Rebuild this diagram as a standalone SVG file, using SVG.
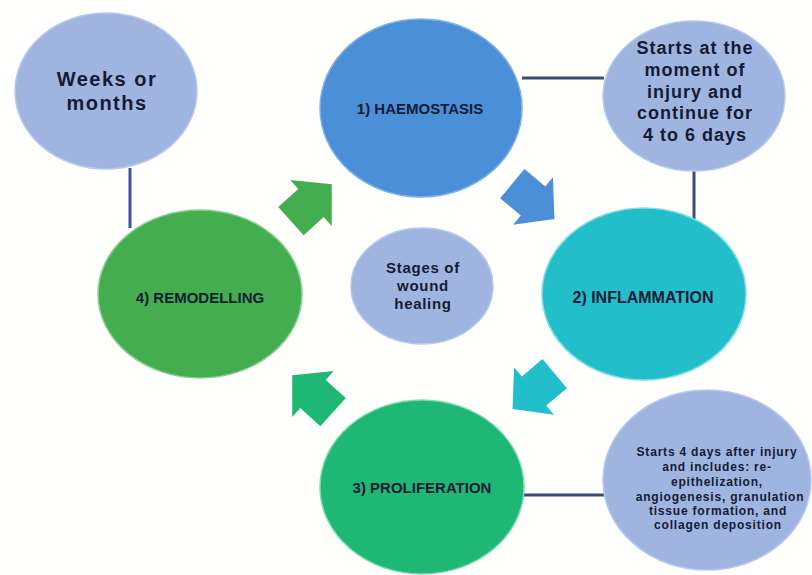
<svg xmlns="http://www.w3.org/2000/svg" width="812" height="575" viewBox="0 0 812 575">
<style>
.t{font-family:"Liberation Sans",Arial,sans-serif;font-weight:bold;fill:#151a35;text-anchor:middle;dominant-baseline:central}
.ln{stroke:#3e4a72;stroke-width:3;fill:none}
.lb{fill:#9fb5e0;stroke:#b8c8ec;stroke-width:1.5}
</style>
<defs>
<polygon id="arr" points="-27,-19 0,-19 0,-31 28,0 0,31 0,19 -27,19"/>
</defs>
<rect width="812" height="575" fill="#fffffd"/>
<g id="connectors">
<line class="ln" x1="130" y1="168" x2="130" y2="228" style="stroke:#3d52a0"/>
<line class="ln" x1="522" y1="78" x2="604" y2="78"/>
<line class="ln" x1="694" y1="170" x2="694" y2="219"/>
<line class="ln" x1="524" y1="495" x2="604" y2="495"/>
<use href="#arr" fill="#44ad4f" transform="translate(311,203) rotate(-42)"/>
<use href="#arr" fill="#4a8fd8" transform="translate(533,201) rotate(40)"/>
<use href="#arr" fill="#22bfcb" transform="translate(534,391) rotate(140)"/>
<use href="#arr" fill="#1fb774" transform="translate(313,394) rotate(-138)"/>
</g>
<g id="weeks">
<ellipse class="lb" cx="106" cy="91" rx="91" ry="78"/>
<text class="t" x="107" y="79" font-size="20" letter-spacing="1.5">Weeks or</text>
<text class="t" x="107" y="103" font-size="20" letter-spacing="1.5">months</text>
</g>
<g id="haemostasis">
<ellipse cx="421" cy="108" rx="101" ry="89" fill="#4a8fd8" stroke="#7fb1e6" stroke-width="1.5"/>
<text class="t" x="420" y="108" font-size="15">1) HAEMOSTASIS</text>
</g>
<g id="starts1">
<ellipse class="lb" cx="694" cy="96" rx="91" ry="75"/>
<text class="t" x="695" y="48" font-size="18" letter-spacing="1">Starts at the</text>
<text class="t" x="695" y="70" font-size="18" letter-spacing="1">moment of</text>
<text class="t" x="695" y="92" font-size="18" letter-spacing="1">injury and</text>
<text class="t" x="695" y="113" font-size="18" letter-spacing="1">continue for</text>
<text class="t" x="695" y="135" font-size="18" letter-spacing="1">4 to 6 days</text>
</g>
<g id="inflammation">
<ellipse cx="644" cy="294" rx="102" ry="86" fill="#22bfcb" stroke="#7fdde3" stroke-width="1.5"/>
<text class="t" x="643" y="297" font-size="16">2) INFLAMMATION</text>
</g>
<g id="stages">
<ellipse class="lb" cx="422" cy="286" rx="71" ry="58"/>
<text class="t" x="423" y="267" font-size="15" letter-spacing="0.7">Stages of</text>
<text class="t" x="423" y="285" font-size="15" letter-spacing="0.7">wound</text>
<text class="t" x="423" y="303" font-size="15" letter-spacing="0.7">healing</text>
</g>
<g id="remodelling">
<ellipse cx="200" cy="294" rx="102" ry="84" fill="#44ad4f" stroke="#8ad293" stroke-width="1.5"/>
<text class="t" x="200" y="297" font-size="15">4) REMODELLING</text>
</g>
<g id="proliferation">
<ellipse cx="422" cy="487" rx="102" ry="87" fill="#1fb774" stroke="#7bdcb0" stroke-width="1.5"/>
<text class="t" x="422" y="487" font-size="15">3) PROLIFERATION</text>
</g>
<g id="starts3">
<ellipse class="lb" cx="707" cy="480" rx="104" ry="90"/>
<text class="t" x="717" y="452" font-size="12" letter-spacing="0.8">Starts 4 days after injury</text>
<text class="t" x="717" y="467" font-size="12" letter-spacing="0.8">and includes: re-</text>
<text class="t" x="717" y="482" font-size="12" letter-spacing="0.8">epithelization,</text>
<text class="t" x="720" y="497" font-size="12" letter-spacing="0.8">angiogenesis, granulation</text>
<text class="t" x="718" y="511" font-size="12" letter-spacing="0.8">tissue formation, and</text>
<text class="t" x="718" y="525" font-size="12" letter-spacing="0.8">collagen deposition</text>
</g>
</svg>
